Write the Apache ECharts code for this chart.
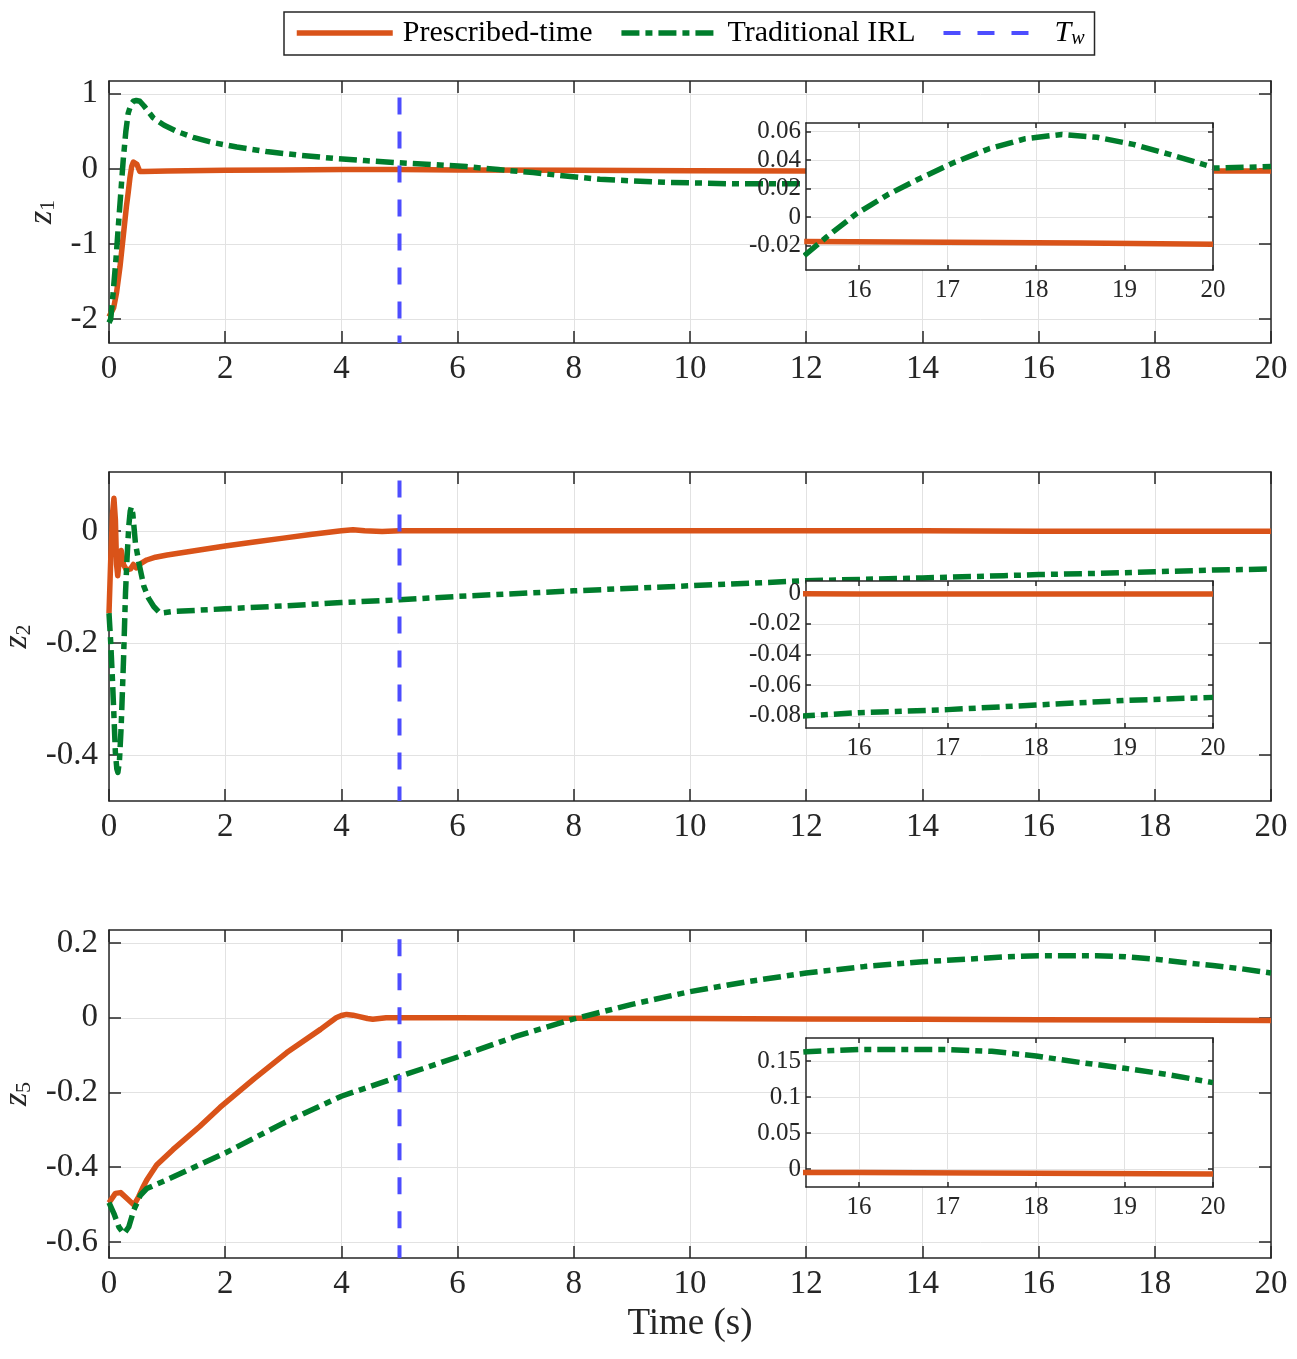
<!DOCTYPE html>
<html><head><meta charset="utf-8">
<script src="https://cdn.jsdelivr.net/npm/echarts@6/dist/echarts.min.js"></script>
<style>html,body{margin:0;padding:0;background:#fff}#c{width:1297px;height:1359px}</style>
</head><body><div id="c"></div>
<script>
// ---------------- data ----------------
const seriesNames = ['Prescribed-time', 'Traditional IRL', 'Tw'];
const Tw = 5;

// z1 main
const tZ1P = [0, 0.08, 0.13, 0.19, 0.245, 0.3, 0.33, 0.36, 0.39, 0.42, 0.445, 0.48, 0.53, 0.6, 1, 2, 3, 4, 5, 6, 8, 10, 12, 14, 16, 18, 20];
const z1P  = [-1.97, -1.85, -1.65, -1.3, -0.9, -0.5, -0.32, -0.12, 0.03, 0.09, 0.1, 0.06, -0.035, -0.035, -0.03, -0.02, -0.015, -0.01, -0.01, -0.015, -0.02, -0.025, -0.03, -0.03, -0.03, -0.03, -0.03];
const tZ1T = [0, 0.03, 0.07, 0.12, 0.16, 0.2, 0.245, 0.29, 0.33, 0.38, 0.42, 0.47, 0.53, 0.6, 0.76, 0.95, 1.16, 1.45, 1.79, 2.2, 2.71, 3.3, 3.86, 4.4, 5, 5.6, 6.15, 6.7, 7.3, 7.9, 8.45, 9, 9.6, 10.2, 10.74, 11.3, 11.9, 13, 14, 15, 16, 17, 18, 19, 20];
const z1T  = [-2.05, -2.0, -1.66, -1.2, -0.77, -0.35, 0.12, 0.5, 0.74, 0.86, 0.9, 0.91, 0.9, 0.84, 0.68, 0.58, 0.5, 0.42, 0.35, 0.29, 0.23, 0.18, 0.14, 0.11, 0.08, 0.055, 0.03, -0.01, -0.05, -0.1, -0.14, -0.16, -0.18, -0.19, -0.2, -0.2, -0.2, -0.19, -0.17, -0.13, -0.09, -0.05, -0.02, 0.01, 0.03];
// z1 inset
const tIn1P = [15.38, 17, 18.5, 20];
const in1P  = [-0.017, -0.0175, -0.018, -0.019];
const tIn1T = [15.38, 15.63, 15.96, 16.33, 16.65, 17.06, 17.47, 17.88, 18.29, 18.69, 19.1, 19.51, 20];
const in1T  = [-0.027, -0.014, 0.002, 0.016, 0.026, 0.038, 0.048, 0.055, 0.058, 0.056, 0.051, 0.044, 0.035];

// z2
const tZ2P = [0, 0.03, 0.06, 0.085, 0.11, 0.13, 0.15, 0.18, 0.21, 0.25, 0.3, 0.37, 0.42, 0.47, 0.55, 0.65, 0.8, 1.0, 1.5, 2, 2.5, 3, 3.5, 4, 4.2, 4.4, 4.7, 5, 6, 8, 10, 12, 14, 16, 18, 20];
const z2P  = [-0.147, -0.05, 0.03, 0.058, 0.02, -0.06, -0.08, -0.05, -0.035, -0.06, -0.07, -0.068, -0.06, -0.066, -0.058, -0.052, -0.047, -0.043, -0.035, -0.027, -0.02, -0.013, -0.006, 0, 0.002, 0, -0.001, 0, 0, 0, 0, 0, 0, -0.0005, -0.0005, -0.0005];
const tZ2T = [0, 0.03, 0.057, 0.085, 0.11, 0.135, 0.153, 0.18, 0.21, 0.25, 0.284, 0.31, 0.34, 0.365, 0.386, 0.41, 0.455, 0.52, 0.6, 0.68, 0.77, 0.88, 1.1, 2, 3, 4, 5, 6, 8, 10, 12, 14, 15.4, 16, 17, 18, 19, 20];
const z2T  = [-0.147, -0.2, -0.26, -0.33, -0.396, -0.425, -0.431, -0.41, -0.348, -0.23, -0.111, -0.05, 0.008, 0.035, 0.043, 0.03, -0.022, -0.06, -0.099, -0.12, -0.135, -0.147, -0.144, -0.139, -0.134, -0.128, -0.123, -0.117, -0.107, -0.098, -0.089, -0.084, -0.080, -0.078, -0.076, -0.073, -0.070, -0.068];

// z5
const tZ5P = [0, 0.11, 0.2, 0.31, 0.43, 0.51, 0.58, 0.65, 0.82, 1.1, 1.56, 1.91, 2.49, 3.06, 3.64, 3.91, 4.0, 4.09, 4.2, 4.31, 4.45, 4.54, 4.77, 5, 6, 8, 10, 12, 14, 16, 18, 20];
const z5P  = [-0.495, -0.47, -0.468, -0.484, -0.501, -0.479, -0.455, -0.434, -0.394, -0.353, -0.291, -0.24, -0.164, -0.093, -0.031, 0.0, 0.006, 0.009, 0.007, 0.003, -0.002, -0.004, 0, 0, 0, -0.001, -0.002, -0.003, -0.004, -0.005, -0.006, -0.007];
const tZ5T = [0, 0.085, 0.17, 0.256, 0.34, 0.426, 0.54, 0.65, 0.99, 2, 3, 4, 5, 6, 7, 8, 9, 10, 11, 12, 13, 14, 15, 15.4, 16, 16.6, 17, 17.5, 18, 18.5, 19, 19.5, 20];
const z5T  = [-0.495, -0.524, -0.56, -0.578, -0.56, -0.515, -0.475, -0.457, -0.434, -0.362, -0.282, -0.21, -0.157, -0.105, -0.05, -0.003, 0.036, 0.07, 0.097, 0.12, 0.137, 0.15, 0.159, 0.163, 0.166, 0.166, 0.166, 0.1635, 0.157, 0.148, 0.14, 0.131, 0.12];

// ticks
const xTicksMain = [0, 2, 4, 6, 8, 10, 12, 14, 16, 18, 20];
const xTicksInset = [16, 17, 18, 19, 20];
const yTicks1 = [-2, -1, 0, 1];
const yTicks2 = [-0.4, -0.2, 0];
const yTicks3 = [-0.6, -0.4, -0.2, 0, 0.2];
const yTicksIn1 = [-0.02, 0, 0.02, 0.04, 0.06];
const yTicksIn2 = [-0.08, -0.06, -0.04, -0.02, 0];
const yTicksIn3 = [0, 0.05, 0.1, 0.15];

// --------------- styling ---------------
const FONT = "'Liberation Serif','DejaVu Serif',serif";
const AX = '#262626';
const GRIDC = '#e2e2e2';
const ORANGE = '#D95319';
const GREEN = '#007D2C';
const BLUE = '#4D4DFF';
const pair = (ts, vs) => ts.map((t, i) => [t, vs[i]]);

const grids = [], xAxis = [], yAxis = [], series = [];

function addPanel(g, xr, xt, yr, yt, o) {
  const gi = grids.length;
  grids.push(Object.assign({ containLabel: false, outerBoundsMode: 'none' }, g));
  const common = (pos, isX, ticks, show) => ({
    type: 'value', gridIndex: gi, position: pos,
    min: (isX ? xr : yr)[0], max: (isX ? xr : yr)[1],
    z: o.z,
    axisLine: { show: true, onZero: false, lineStyle: { color: AX, width: o.lw } },
    axisTick: { show: true, inside: true, length: o.tl, customValues: ticks, lineStyle: { color: AX, width: o.lw } },
    axisLabel: { show: show, customValues: ticks, fontSize: o.fs, fontFamily: FONT, color: AX,
                 margin: isX ? o.xm : o.ym, formatter: v => String(v) },
    splitLine: { show: show, lineStyle: { color: GRIDC, width: 1 } }
  });
  const xi = xAxis.length;
  xAxis.push(Object.assign(common('bottom', true, xt, true), o.xname || {}));
  xAxis.push(common('top', true, xt, false));
  const yi = yAxis.length;
  yAxis.push(Object.assign(common('left', false, yt, true), o.yname || {}));
  yAxis.push(common('right', false, yt, false));
  return { xi, yi };
}

function addLine(name, ax, data, color, width, type, z) {
  series.push({
    name, type: 'line', xAxisIndex: ax.xi, yAxisIndex: ax.yi, data,
    symbol: 'none', showSymbol: false, smooth: false, z, clip: true, animation: false,
    lineStyle: { color, width, type, cap: 'butt', join: 'round' }, itemStyle: { color }
  });
}

const mainO = { lw: 1.5, tl: 12, fs: 33, xm: 10, ym: 11, z: 0 };
const insO = { lw: 1.5, tl: 5, fs: 25, xm: 8, ym: 5, z: 12 };

function yName(sub, gap) {
  return {
    name: '{z|z}{s|' + sub + '}', nameLocation: 'middle', nameGap: gap,
    nameTextStyle: { rich: {
      z: { fontFamily: FONT, fontStyle: 'italic', fontSize: 34, color: AX },
      s: { fontFamily: FONT, fontSize: 22, color: AX, padding: [14, 0, 0, 0] }
    } }
  };
}

// main panels
const P1 = addPanel({ left: 109, top: 81, width: 1162, height: 262 }, [0, 20], xTicksMain, [-2.32, 1.17], yTicks1,
  Object.assign({}, mainO, { yname: yName('1', 46) }));
const P2 = addPanel({ left: 109, top: 472, width: 1162, height: 329 }, [0, 20], xTicksMain, [-0.482, 0.105], yTicks2,
  Object.assign({}, mainO, { yname: yName('2', 72) }));
const P3 = addPanel({ left: 109, top: 930, width: 1162, height: 328 }, [0, 20], xTicksMain, [-0.643, 0.235], yTicks3,
  Object.assign({}, mainO, { yname: yName('5', 72),
    xname: { name: 'Time (s)', nameLocation: 'middle', nameGap: 48,
             nameTextStyle: { fontFamily: FONT, fontSize: 37, color: AX } } }));

// inset panels
const insetGrid = (top, h) => ({ left: 806, top, width: 407, height: h, show: true, backgroundColor: '#ffffff', borderWidth: 0, z: 10 });
const I1 = addPanel(insetGrid(123, 147), [15.4, 20], xTicksInset, [-0.037, 0.066], yTicksIn1, insO);
const I2 = addPanel(insetGrid(581, 147), [15.4, 20], xTicksInset, [-0.088, 0.008], yTicksIn2, insO);
const I3 = addPanel(insetGrid(1038, 149), [15.4, 20], xTicksInset, [-0.025, 0.182], yTicksIn3, insO);

const W = 5.5;
const GDASH = [18, 6, 7, 6];
const BDASH = [17, 17];

// subplot 1
addLine(seriesNames[0], P1, pair(tZ1P, z1P), ORANGE, W, 'solid', 2);
addLine(seriesNames[1], P1, pair(tZ1T, z1T), GREEN, W, GDASH, 3);
addLine(seriesNames[2], P1, [[Tw, 0.95], [Tw, -2.32]], BLUE, 4, BDASH, 4);
addLine(seriesNames[0], I1, pair(tIn1P, in1P), ORANGE, W, 'solid', 13);
addLine(seriesNames[1], I1, pair(tIn1T, in1T), GREEN, W, GDASH, 14);
// subplot 2
addLine(seriesNames[0], P2, pair(tZ2P, z2P), ORANGE, W, 'solid', 2);
addLine(seriesNames[1], P2, pair(tZ2T, z2T), GREEN, W, GDASH, 3);
addLine(seriesNames[2], P2, [[Tw, 0.09], [Tw, -0.482]], BLUE, 4, BDASH, 4);
addLine(seriesNames[0], I2, pair(tZ2P, z2P), ORANGE, W, 'solid', 13);
addLine(seriesNames[1], I2, pair(tZ2T, z2T), GREEN, W, GDASH, 14);
// subplot 3
addLine(seriesNames[0], P3, pair(tZ5P, z5P), ORANGE, W, 'solid', 2);
addLine(seriesNames[1], P3, pair(tZ5T, z5T), GREEN, W, GDASH, 3);
addLine(seriesNames[2], P3, [[Tw, 0.21], [Tw, -0.643]], BLUE, 4, BDASH, 4);
addLine(seriesNames[0], I3, pair(tZ5P, z5P), ORANGE, W, 'solid', 13);
addLine(seriesNames[1], I3, pair(tZ5T, z5T), GREEN, W, GDASH, 14);

const option = {
  backgroundColor: '#ffffff',
  animation: false,
  legend: {
    data: seriesNames,
    left: 284, top: 12,
    padding: [6, 10, 6, 10],
    itemWidth: 96, itemHeight: 20, itemGap: 26,
    borderColor: AX, borderWidth: 1.5, borderRadius: 0,
    lineStyle: { width: 'inherit', type: 'inherit' },
    itemStyle: { opacity: 0, color: 'rgba(0,0,0,0)', borderWidth: 0 },
    selectedMode: false,
    textStyle: { fontFamily: FONT, fontSize: 30, color: '#000', padding: [0, 0, 0, 5],
      rich: {
        it: { fontFamily: FONT, fontStyle: 'italic', fontSize: 30, color: '#000', padding: [0, 0, 0, 5] },
        sub: { fontFamily: FONT, fontStyle: 'italic', fontSize: 20, color: '#000', padding: [12, 0, 0, 0] }
      } },
    formatter: n => n === 'Tw' ? '{it|T}{sub|w}' : n
  },
  grid: grids,
  xAxis, yAxis, series
};

const chart = echarts.init(document.getElementById('c'));
chart.setOption(option);
</script></body></html>
